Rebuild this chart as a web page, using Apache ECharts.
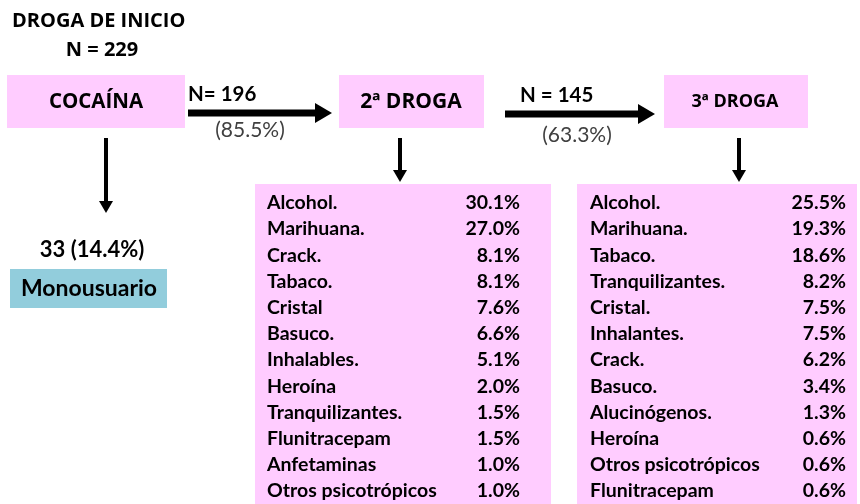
<!DOCTYPE html>
<html>
<head>
<meta charset="utf-8">
<script src="https://cdn.jsdelivr.net/npm/echarts@6/dist/echarts.min.js"></script>
<style>
html,body{margin:0;padding:0;background:#fff}
#flow{width:860px;height:504px}
</style>
</head>
<body>
<div id="flow"></div>
<script>
// datos del diagrama
var startDrug = 'COCAÍNA';
var totalN = 229;
var secondN = 196, secondPct = 85.5;
var thirdN = 145, thirdPct = 63.3;
var monoN = 33, monoPct = 14.4;

var drugs2 = ['Alcohol.', 'Marihuana.', 'Crack.', 'Tabaco.', 'Cristal', 'Basuco.', 'Inhalables.',
              'Heroína', 'Tranquilizantes.', 'Flunitracepam', 'Anfetaminas', 'Otros psicotrópicos'];
var pcts2  = [30.1, 27.0, 8.1, 8.1, 7.6, 6.6, 5.1, 2.0, 1.5, 1.5, 1.0, 1.0];

var drugs3 = ['Alcohol.', 'Marihuana.', 'Tabaco.', 'Tranquilizantes.', 'Cristal.', 'Inhalantes.',
              'Crack.', 'Basuco.', 'Alucinógenos.', 'Heroína', 'Otros psicotrópicos', 'Flunitracepam'];
var pcts3  = [25.5, 19.3, 18.6, 8.2, 7.5, 7.5, 6.2, 3.4, 1.3, 0.6, 0.6, 0.6];

var FONT = 'Lato, "Open Sans", sans-serif';
var CAPS = '"Open Sans", Lato, sans-serif';   // las mayusculas se parecen mas a Calibri
var PINK = '#ffccff';
var BLUE = '#92cddc';

function fmt(v) { return v.toFixed(1) + '%'; }

function txt(x, y, s, size, opt) {
    opt = opt || {};
    return {
        type: 'text', x: x, y: y, z: 10,
        style: {
            text: s,
            fill: opt.color || '#000',
            font: (opt.weight || 'bold') + ' ' + size + 'px ' + (opt.family || FONT),
            textAlign: opt.align || 'center',
            textVerticalAlign: 'middle'
        }
    };
}

function box(x1, y1, x2, y2, color) {
    return { type: 'rect', shape: { x: x1, y: y1, width: x2 - x1, height: y2 - y1 }, style: { fill: color } };
}

// flecha horizontal
function arrowH(x1, x2, y) {
    return [
        { type: 'rect', shape: { x: x1, y: y - 3.5, width: x2 - x1 - 14, height: 7 }, style: { fill: '#000' } },
        { type: 'polygon', shape: { points: [[x2 - 17, y - 10], [x2, y], [x2 - 17, y + 10]] }, style: { fill: '#000' } }
    ];
}

// flecha vertical
function arrowV(x, y1, y2) {
    return [
        { type: 'rect', shape: { x: x - 2, y: y1, width: 4, height: y2 - y1 - 10 }, style: { fill: '#000' } },
        { type: 'polygon', shape: { points: [[x - 7, y2 - 12], [x, y2], [x + 7, y2 - 12]] }, style: { fill: '#000' } }
    ];
}

function table(x1, x2, xName, xVal, names, values) {
    var els = [box(x1, 184, x2, 504, PINK)];
    names.forEach(function (name, i) {
        var y = 203 + i * 26.2;
        els.push(txt(xName, y, name, 19.5, { align: 'left' }));
        els.push(txt(xVal, y, fmt(values[i]), 19.5, { align: 'right' }));
    });
    return els;
}

var elements = [];
elements.push(txt(12, 21, 'DROGA DE INICIO', 20, { align: 'left', family: CAPS }));
elements.push(txt(102, 50, 'N = ' + totalN, 20, { family: CAPS }));

elements.push(box(7, 75, 185, 128, PINK));
elements.push(txt(96, 102, startDrug, 20.5, { family: CAPS }));
elements = elements.concat(arrowH(188, 332, 113));
elements.push(txt(188, 94, 'N= ' + secondN, 20.5, { align: 'left' }));
elements.push(txt(250, 130, '(' + secondPct + '%)', 21, { weight: 'normal', color: '#404040' }));

elements.push(box(339, 75, 484, 128, PINK));
elements.push(txt(411, 102, '2ª DROGA', 21, { family: CAPS }));
elements = elements.concat(arrowH(505, 655, 114));
elements.push(txt(520, 95, 'N = ' + thirdN, 20.5, { align: 'left' }));
elements.push(txt(577, 135, '(' + thirdPct + '%)', 21, { weight: 'normal', color: '#404040' }));

elements.push(box(664, 75, 808, 128, PINK));
elements.push(txt(735, 102, '3ª DROGA', 18, { family: CAPS }));

elements = elements.concat(arrowV(106, 138, 213));
elements = elements.concat(arrowV(400, 138, 182));
elements = elements.concat(arrowV(739, 138, 182));

elements.push(txt(92, 250, monoN + ' (' + monoPct + '%)', 22));
elements.push(box(10, 269, 167, 308, BLUE));
elements.push(txt(89, 289, 'Monousuario', 23));

elements = elements.concat(table(255, 551, 267, 520, drugs2, pcts2));
elements = elements.concat(table(577, 857, 590, 846, drugs3, pcts3));

var chart = echarts.init(document.getElementById('flow'));
chart.setOption({
    backgroundColor: '#fff',
    animation: false,
    graphic: { elements: elements }
});
</script>
</body>
</html>
